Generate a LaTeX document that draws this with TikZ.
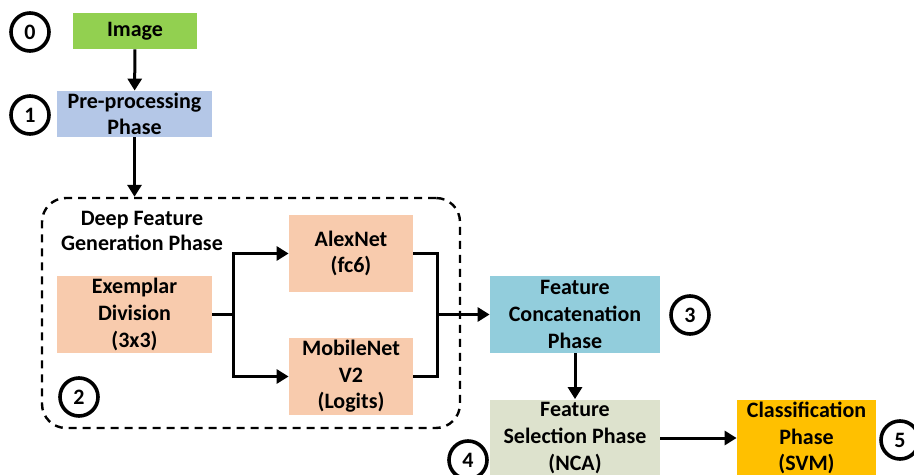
\documentclass[tikz,border=0pt]{standalone}
\usepackage{fontspec}
\setmainfont{Carlito}
\usetikzlibrary{positioning,arrows.meta,calc}
\definecolor{imagecolor}{HTML}{92D050}
\definecolor{precolor}{HTML}{B4C7E7}
\definecolor{deepcolor}{HTML}{F8CBAD}
\definecolor{concatcolor}{HTML}{92CDDC}
\definecolor{selectcolor}{HTML}{DDE2CD}
\definecolor{classcolor}{HTML}{FFC000}

\begin{document}
\begin{tikzpicture}[
    x=0.5pt, y=-0.5pt,
    phase/.style={rectangle, inner sep=0pt, align=center, minimum height=38.5pt,
        font=\bfseries\fontsize{11}{13.3}\selectfont},
    num/.style={circle, draw, line width=1.8pt, minimum size=19pt, inner sep=0pt,
        font=\bfseries\fontsize{11}{12}\selectfont},
    arrow/.style={-{Triangle[length=6pt,width=7pt]}, line width=1.5pt},
    link/.style={line width=1.5pt}
]
\useasboundingbox (0,0) rectangle (914,475);

% dashed group
\node[draw, line width=1.2pt, dash pattern=on 4pt off 3pt, rounded corners=12pt,
      minimum width=209pt, minimum height=115pt] (dfg) at (251,313) {};
\node[font=\bfseries\fontsize{11}{12.5}\selectfont, align=center] (dfglabel) at (142,230.5) {Deep Feature\\Generation Phase};

\node[phase, fill=imagecolor, minimum width=62pt, minimum height=18pt] (img) at (135,31) {Image};
\node[phase, fill=precolor, minimum width=77.5pt, minimum height=23pt] (pre) at (134.5,114) {Pre-processing\\Phase};
\node[phase, fill=deepcolor, minimum width=77.5pt] (exemplar) at (134.5,314.5) {Exemplar\\Division\\(3x3)};
\node[phase, fill=deepcolor, minimum width=62pt] (alexnet) at (351,253.5) {AlexNet\\(fc6)};
\node[phase, fill=deepcolor, minimum width=62pt] (mobilenet) at (351,376.5) {MobileNet\\V2\\(Logits)};
\node[phase, fill=concatcolor, minimum width=85pt] (concat) at (575,314.5) {Feature\\Concatenation\\Phase};
\node[phase, fill=selectcolor, minimum width=85pt] (select) at (575,438) {Feature\\Selection Phase\\(NCA)};
\node[phase, fill=classcolor, minimum width=69.5pt] (class) at (806.5,438) {Classification\\Phase\\(SVM)};

% step numbers
\node[num] (n0) at (30,32) {0};
\node[num] (n1) at (30,115) {1};
\node[num] (n2) at (79,397) {2};
\node[num] (n3) at (690,315) {3};
\node[num] (n4) at (468,460) {4};
\node[num] (n5) at (900,440) {5};

\coordinate (split) at (233,314.5);
\coordinate (merge) at (437,314.5);

\draw[arrow] (img) -- (pre);
\draw[arrow] (pre) -- (pre |- dfg.north);
\draw[link] (exemplar) -- (split);
\draw[arrow] (split) |- (alexnet);
\draw[arrow] (split) |- (mobilenet);
\draw[link] (alexnet) -| (merge);
\draw[link] (mobilenet) -| (merge);
\draw[arrow] (merge) -- (concat);
\draw[arrow] (concat) -- (select);
\draw[arrow] (select) -- (class);
\end{tikzpicture}
\end{document}
